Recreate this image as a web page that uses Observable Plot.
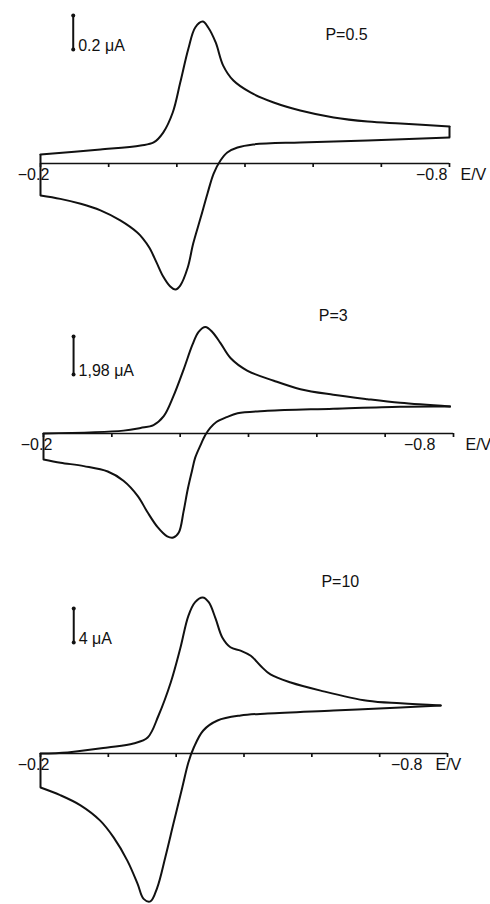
<!DOCTYPE html>
<html><head><meta charset="utf-8">
<script src="https://cdn.jsdelivr.net/npm/d3@7"></script>
<script src="https://cdn.jsdelivr.net/npm/@observablehq/plot@0.6"></script>
<style>
body{margin:0;background:#fff;}
#chart{width:490px;}
#chart svg{display:block;}
</style>
</head><body><div id="chart"></div>
<script>
// x axis (potential, V)
const xTicks = [-0.2, -0.3, -0.4, -0.5, -0.6, -0.7, -0.8];
const xTickLabels = ["−0.2", "−0.8"];
const axisTitle = "E/V";
const panelTitles = ["P=0.5", "P=3", "P=10"];
const scaleValues = [0.2, 1.98, 4];           // current scale bars (μA)
const scaleLabels = ["0.2 μA", "1,98 μA", "4 μA"];

// P = 0.5 : forward (upper) and reverse (lower) branches, current in μA
const p05UpE = [-0.200,-0.288,-0.347,-0.366,-0.380,-0.394,-0.405,-0.417,-0.427,-0.438,-0.446,-0.457,-0.468,-0.483,-0.508,-0.542,-0.581,-0.630,-0.680,-0.728,-0.800];
const p05UpI = [0.053,0.082,0.106,0.124,0.182,0.300,0.476,0.676,0.800,0.835,0.800,0.712,0.576,0.488,0.418,0.359,0.312,0.271,0.247,0.235,0.218];
const p05DownE = [-0.800,-0.680,-0.581,-0.512,-0.489,-0.474,-0.464,-0.454,-0.445,-0.435,-0.424,-0.416,-0.405,-0.398,-0.390,-0.380,-0.370,-0.360,-0.350,-0.342,-0.317,-0.288,-0.259,-0.229,-0.200];
const p05DownI = [0.153,0.135,0.124,0.112,0.094,0.065,0.018,-0.059,-0.176,-0.318,-0.471,-0.612,-0.718,-0.741,-0.722,-0.665,-0.580,-0.497,-0.440,-0.406,-0.335,-0.276,-0.237,-0.208,-0.188];

// P = 3
const p3UpE = [-0.200,-0.317,-0.342,-0.361,-0.376,-0.390,-0.405,-0.418,-0.427,-0.437,-0.447,-0.459,-0.474,-0.498,-0.537,-0.576,-0.624,-0.674,-0.722,-0.795];
const p3UpI = [0,0.15,0.29,0.44,0.90,1.93,3.33,4.63,5.30,5.55,5.29,4.71,3.92,3.28,2.75,2.31,2.02,1.79,1.60,1.41];
const p3DownE = [-0.795,-0.722,-0.624,-0.528,-0.484,-0.468,-0.453,-0.444,-0.437,-0.430,-0.422,-0.417,-0.411,-0.405,-0.398,-0.390,-0.381,-0.367,-0.352,-0.338,-0.317,-0.294,-0.259,-0.225,-0.200];
const p3DownI = [1.41,1.40,1.29,1.18,1.05,0.85,0.60,0.29,-0.07,-0.59,-1.26,-1.99,-2.92,-4.06,-5.16,-5.42,-5.36,-4.88,-4.09,-3.26,-2.46,-1.98,-1.70,-1.52,-1.35];

// P = 10
const p10UpE = [-0.200,-0.240,-0.299,-0.337,-0.358,-0.374,-0.392,-0.406,-0.418,-0.428,-0.439,-0.448,-0.458,-0.468,-0.480,-0.495,-0.510,-0.524,-0.539,-0.569,-0.613,-0.682,-0.731,-0.790];
const p10UpI = [0,0.12,0.71,1.18,1.88,4.47,8.35,12.35,16.2,17.8,18.35,17.8,15.9,13.65,12.5,12.1,11.5,10.35,9.3,8.35,7.4,6.2,5.9,5.65];
const p10DownE = [-0.790,-0.731,-0.632,-0.535,-0.495,-0.461,-0.440,-0.426,-0.418,-0.409,-0.396,-0.384,-0.372,-0.362,-0.352,-0.343,-0.328,-0.308,-0.288,-0.259,-0.229,-0.200];
const p10DownI = [5.65,5.41,5.06,4.71,4.47,3.88,2.71,0.71,-1.06,-4.0,-8.24,-12.2,-15.8,-17.4,-17.1,-15.3,-12.6,-9.9,-7.9,-6.1,-4.9,-4.0];

const panels = [
  {upE: p05UpE, upI: p05UpI, downE: p05DownE, downI: p05DownI, height: 300, xRange: [40, 449], y0: 163, barPx: 34,
   barE: -0.248, barBase: 0.671, titleE: -0.649, titleI: 0.759, lab08dx: -2, evDx: 11},
  {upE: p3UpE, upI: p3UpI, downE: p3DownE, downI: p3DownI, height: 260, xRange: [43, 453], y0: 133, barPx: 38,
   barE: -0.244, barBase: 3.07, titleE: -0.624, titleI: 6.15, lab08dx: -18, evDx: 12},
  {upE: p10UpE, upI: p10UpI, downE: p10DownE, downI: p10DownI, height: 344, xRange: [40, 447], y0: 193, barPx: 34,
   barE: -0.249, barBase: 13.06, titleE: -0.642, titleI: 20.2, lab08dx: -25, evDx: -12}
];

const font = "'Liberation Sans', Arial, sans-serif";
const ink = "#111";

panels.forEach((cfg, k) => {
  const up = cfg.upE.map((E, j) => ({E, I: cfg.upI[j]}));
  const down = cfg.downE.map((E, j) => ({E, I: cfg.downI[j]}));
  const n = up.length, m = down.length;
  const switches = [
    {E: up[0].E, I1: up[0].I, I2: down[m - 1].I},
    {E: up[n - 1].E, I1: up[n - 1].I, I2: down[0].I}
  ];
  const s = scaleValues[k];
  const bar = [{E: cfg.barE, I1: cfg.barBase, I2: cfg.barBase + s}];
  const svg = Plot.plot({
    width: 490, height: cfg.height, margin: 0,
    x: {domain: [-0.2, -0.8], range: cfg.xRange, axis: null},
    y: {domain: [0, s], range: [cfg.y0, cfg.y0 - cfg.barPx], axis: null},
    style: {fontFamily: font, fontSize: "16px", background: "white", color: ink, overflow: "visible"},
    marks: [
      Plot.ruleY([0], {x1: -0.2, x2: -0.8, stroke: ink, strokeWidth: 1.7}),
      Plot.ruleX(xTicks, {x: d => d, y1: 0, y2: 0, insetBottom: -4, stroke: ink, strokeWidth: 1.7}),
      Plot.line(up, {x: "E", y: "I", curve: "catmull-rom", stroke: ink, strokeWidth: 2}),
      Plot.line(down, {x: "E", y: "I", curve: "catmull-rom", stroke: ink, strokeWidth: 2}),
      Plot.ruleX(switches, {x: "E", y1: "I1", y2: "I2", stroke: ink, strokeWidth: 2}),
      // scale bar
      Plot.ruleX(bar, {x: "E", y1: "I1", y2: "I2", stroke: ink, strokeWidth: 2}),
      Plot.dot([bar[0].I1, bar[0].I2], {x: cfg.barE, y: d => d, r: 2, fill: ink}),
      Plot.text([scaleLabels[k]], {x: cfg.barE, y: cfg.barBase, dx: 5, dy: -4, textAnchor: "start", fill: ink}),
      // panel title
      Plot.text([panelTitles[k]], {x: cfg.titleE, y: cfg.titleI, fill: ink}),
      // axis labels
      Plot.text([xTickLabels[0]], {x: -0.2, y: 0, dx: -7, dy: 11, fill: ink}),
      Plot.text([xTickLabels[1]], {x: -0.8, y: 0, dx: cfg.lab08dx, dy: 11, textAnchor: "end", fill: ink}),
      Plot.text([axisTitle], {x: -0.8, y: 0, dx: cfg.evDx, dy: 11, textAnchor: "start", fill: ink})
    ]
  });
  document.getElementById("chart").appendChild(svg);
});
</script>
</body></html>
